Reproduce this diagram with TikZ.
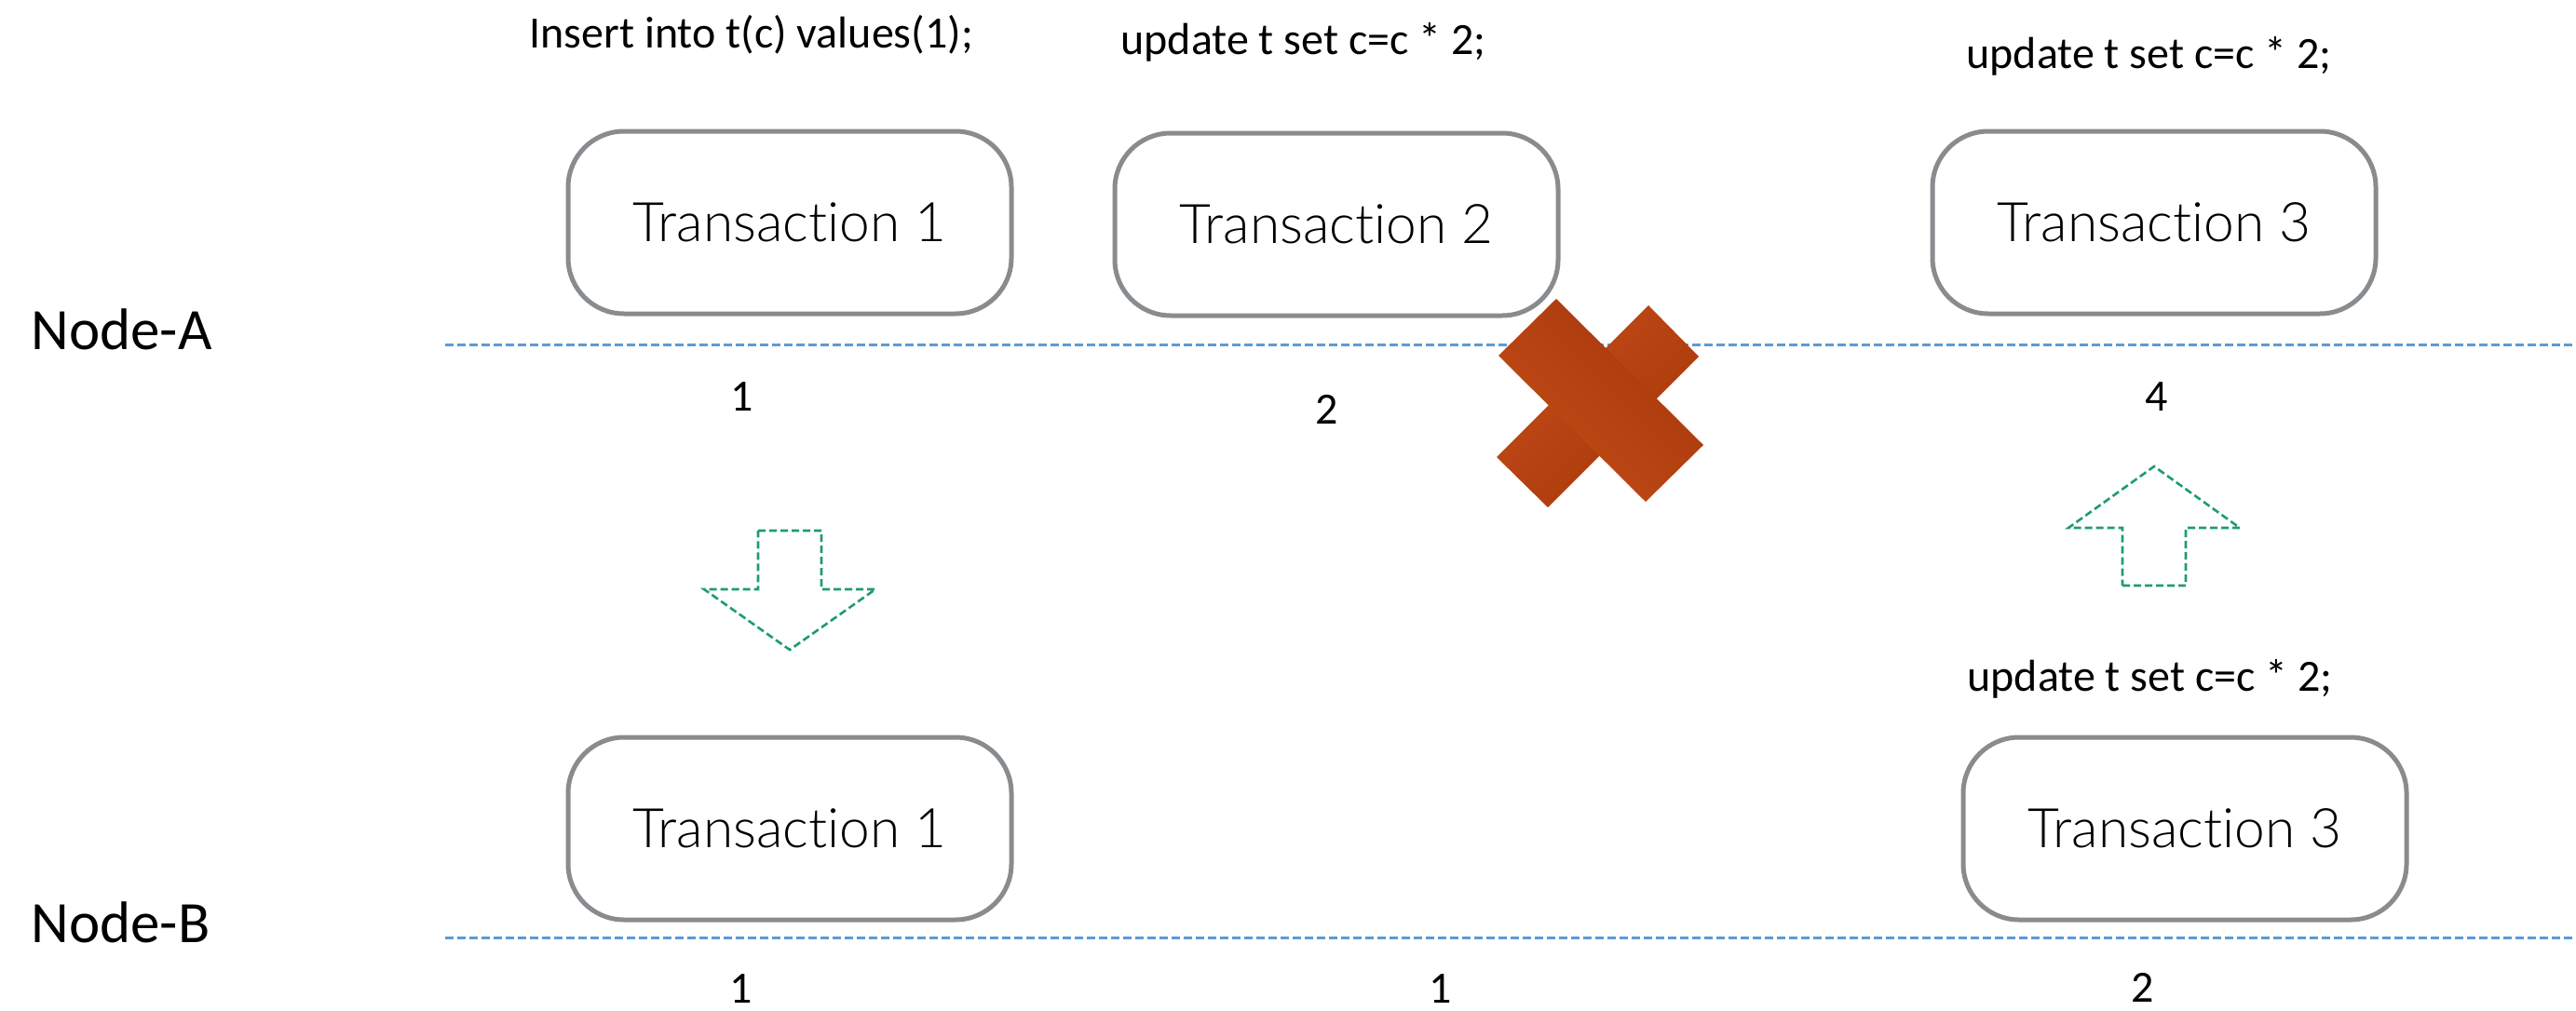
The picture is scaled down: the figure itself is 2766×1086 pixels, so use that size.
\documentclass[tikz,border=0pt]{standalone}
\usepackage{fontspec}
\setmainfont{Carlito}
\newfontfamily\txfont{Lato Light}[Ligatures={NoCommon}]
\definecolor{boxgray}{HTML}{898C8F}
\definecolor{laneblue}{HTML}{5B9BD5}
\definecolor{arrowgreen}{HTML}{1E9B76}
\definecolor{xlight}{HTML}{C04C17}
\definecolor{xdark}{HTML}{A9370A}
\begin{document}
\begin{tikzpicture}[x=0.5pt,y=-0.5pt,
  txbox/.style={draw=boxgray, line width=2.5pt, rounded corners=30pt, fill=white,
    minimum width=238pt, minimum height=98pt, inner sep=0pt,
    font=\txfont\fontsize{29.3}{34}\selectfont},
  sql/.style={anchor=base west, inner sep=0pt, font=\fontsize{24}{28}\selectfont},
  num/.style={anchor=base, inner sep=0pt, font=\fontsize{24}{28}\selectfont},
  hostlabel/.style={anchor=base west, inner sep=0pt, font=\fontsize{31.5}{36}\selectfont},
  lane/.style={draw=laneblue, line width=1.5pt, dash pattern=on 4.5pt off 2pt},
  blockarrow/.style={draw=arrowgreen, line width=1.3pt, dash pattern=on 4pt off 2pt, line join=miter}]

\useasboundingbox[fill=white] (0,0) rectangle (2766,1086);

% timelines of the two nodes
\coordinate (laneAstart) at (478,370);
\coordinate (laneAend) at (2766,370);
\coordinate (laneBstart) at (478,1007);
\coordinate (laneBend) at (2766,1007);
\draw[lane] (laneAstart) -- (laneAend);
\draw[lane] (laneBstart) -- (laneBend);

\node[hostlabel] (hostA) at (33,375) {Node-A};
\node[hostlabel] (hostB) at (33,1012) {Node-B};

% statements
\node[sql] (sqlInsert) at (568,52) {Insert into t(c) values(1);};
\node[sql] (sqlUpd1) at (1203,59) {update t set c=c * 2;};
\node[sql] (sqlUpd2) at (2111,74) {update t set c=c * 2;};
\node[sql] (sqlUpd3) at (2112,742) {update t set c=c * 2;};

% transactions
\node[txbox] (a1) at (848,239) {Transaction 1};
\node[txbox] (a2) at (1435,241) {Transaction 2};
\node[txbox] (a3) at (2313,239) {Transaction 3};
\node[txbox] (b1) at (848,890) {Transaction 1};
\node[txbox] (b3) at (2346,890) {Transaction 3};

% values of c
\node[num] (va1) at (797,441) {1};
\node[num] (va2) at (1425,455) {2};
\node[num] (va4) at (2316,441) {4};
\node[num] (vb1) at (796,1077) {1};
\node[num] (vb1b) at (1547,1077) {1};
\node[num] (vb2) at (2301,1076) {2};

% replication arrows
\draw[blockarrow] (814,570) -- (882,570) -- (882,633) -- (940,633) -- (848,698)
  -- (756,633) -- (814,633) -- cycle;
\draw[blockarrow] (2279,629) -- (2347,629) -- (2347,567) -- (2405,567) -- (2313,501)
  -- (2221,567) -- (2279,567) -- cycle;

% failed replication mark
\shade[top color=xlight, bottom color=xdark, shading angle=45]
  (1770,328) -- (1824,383) -- (1662,545) -- (1607,491) -- cycle;
\shade[top color=xlight, bottom color=xdark, shading angle=135]
  (1671,321) -- (1829,478) -- (1767,539) -- (1609,382) -- cycle;
\end{tikzpicture}
\end{document}
